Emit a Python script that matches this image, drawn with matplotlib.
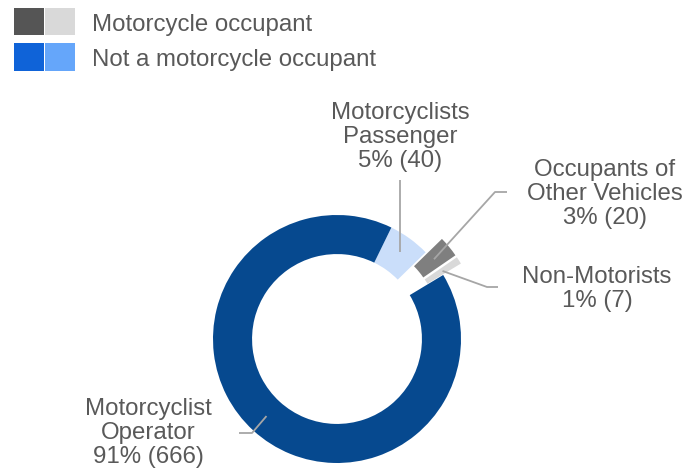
import numpy as np
import matplotlib
matplotlib.use('Agg')
import matplotlib.pyplot as plt
import matplotlib.patches as mpatches

# slices, drawn clockwise from the top right
categories = ['Motorcyclists\nPassenger', 'Occupants of\nOther Vehicles', 'Non-Motorists', 'Motorcyclist\nOperator']
counts     = [40, 20, 7, 666]
exploded   = [False, True, True, False]
colors     = ['#cadefa', '#7f7f7f', '#d9d9d9', '#06498f']

legend_labels = ['Motorcycle occupant', 'Not a motorcycle occupant']
legend_colors = [('#555555', '#d9d9d9'), ('#0f63d8', '#65a6fa')]

W, H = 699, 475
CX, CY, R = 337, 339, 124      # donut centre and radius in pixels
TXT = '#595959'
LINE = '#a6a6a6'
FS = 17.3
plt.rcParams['font.family'] = ['Liberation Sans', 'DejaVu Sans']

def px(x, y):
    # pixel position (from top left) -> data coords of the pie axes
    return (x - CX) / R, (CY - y) / R

fig = plt.figure(figsize=(W / 100, H / 100), dpi=100)
ax = fig.add_axes([0, 0, 1, 1])

start = 64
explode = [0.17 if e else 0 for e in exploded]
wedges, _ = ax.pie(counts, colors=colors, startangle=start, counterclock=False,
                   explode=explode, radius=1,
                   wedgeprops=dict(width=0.315, linewidth=0))
ax.set_xlim(px(0, 0)[0], px(W, 0)[0])
ax.set_ylim(px(0, H)[1], px(0, 0)[1])
ax.set_aspect('equal')
ax.set_axis_off()

total = sum(counts)
# label centre (pixels) and elbow of leader line (pixels, None = straight)
label_pos = [(400, 137), (605, 194), (597, 289), (148, 433)]
elbows    = [None, [(495, 192), (507, 192)], [(487, 287), (498, 287)], [(252, 433), (239, 433)]]

mids = []
ang = start
for c in counts:
    span = 360 * c / total
    mids.append(ang - span / 2)
    ang -= span

for i, cat in enumerate(categories):
    pct = round(100 * counts[i] / total)
    text = f"{cat}\n{pct}% ({counts[i]})"
    lx, ly = px(*label_pos[i])
    ax.text(lx, ly, text, ha='center', va='center', multialignment='center',
            fontsize=FS, color=TXT, linespacing=1.12)
    th = np.radians(mids[i])
    r = 1 - 0.315 / 2 + explode[i] + (0.02 if i == 0 else 0)
    sx, sy = r * np.cos(th), r * np.sin(th)
    if elbows[i] is None:
        xs, ys = [sx, sx], [sy, px(0, 180)[1]]
    else:
        pts = [px(*p) for p in elbows[i]]
        xs = [sx] + [p[0] for p in pts]
        ys = [sy] + [p[1] for p in pts]
    ax.plot(xs, ys, color=LINE, linewidth=1.3, solid_capstyle='butt')

# legend with paired swatches
def fbox(x0, y0, x1, y1):
    return (x0 / W, 1 - y1 / H), (x1 - x0) / W, (y1 - y0) / H

rows = [(8, 35), (43, 71)]
for (y0, y1), lab, (c1, c2) in zip(rows, legend_labels, legend_colors):
    for (x0, x1), c in zip([(14, 44), (45, 75)], [c1, c2]):
        xy, w, h = fbox(x0, y0, x1, y1)
        fig.add_artist(mpatches.Rectangle(xy, w, h, transform=fig.transFigure,
                                          facecolor=c, edgecolor='none'))
    fig.text(92 / W, 1 - ((y0 + y1) / 2 + 3) / H, lab, ha='left', va='center',
             fontsize=FS, color=TXT)

fig.savefig('out.png', dpi=100)
